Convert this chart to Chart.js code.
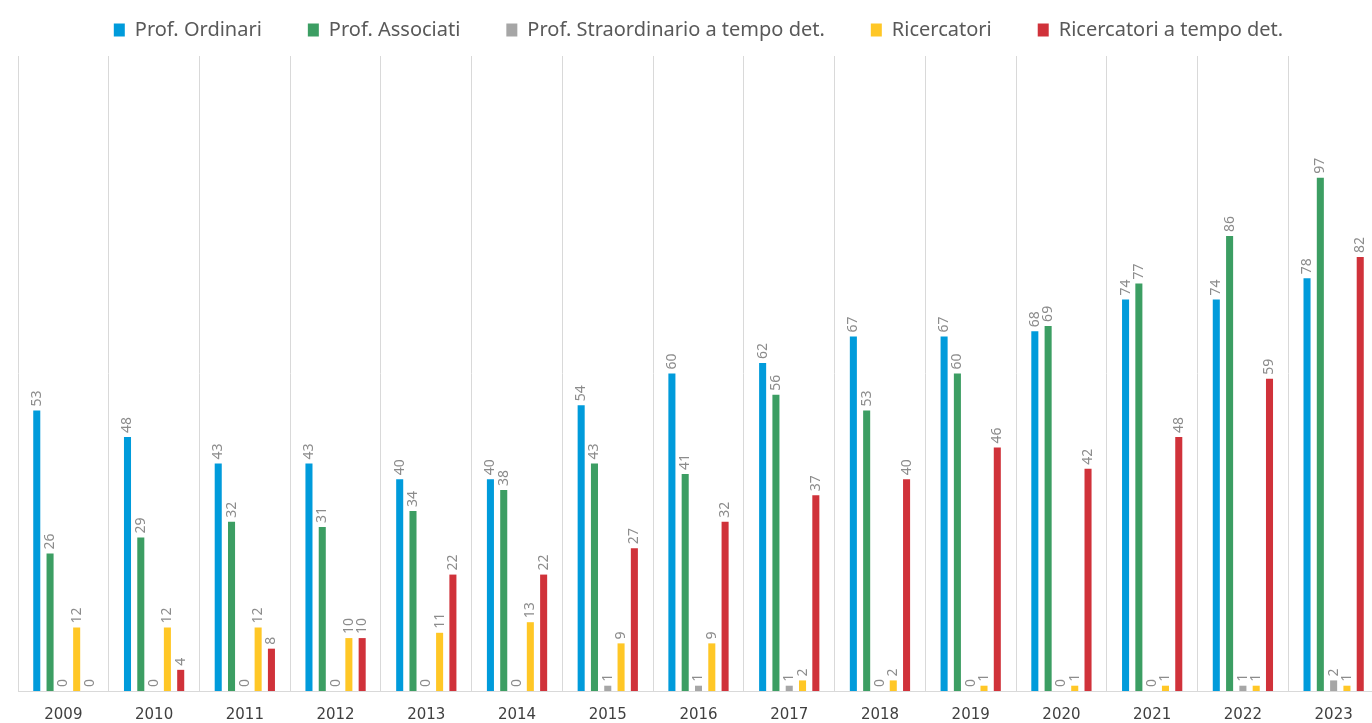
<!DOCTYPE html>
<html>
<head>
<meta charset="utf-8">
<script src="https://cdn.jsdelivr.net/npm/chart.js@4/dist/chart.umd.min.js"></script>
<style>
  html,body{margin:0;padding:0;background:#fff;overflow:hidden;}
  #wrap{width:1372px;height:723px;position:relative;overflow:hidden;}
</style>
</head>
<body>
<div id="wrap"><canvas id="c" width="1379" height="723"></canvas></div>
<script>
const years = ['2009','2010','2011','2012','2013','2014','2015','2016','2017','2018','2019','2020','2021','2022','2023'];
const profOrdinari = [53,48,43,43,40,40,54,60,62,67,67,68,74,74,78];
const profAssociati = [26,29,32,31,34,38,43,41,56,53,60,69,77,86,97];
const profStraordinario = [0,0,0,0,0,0,1,1,1,0,0,0,0,1,2];
const ricercatori = [12,12,12,10,11,13,9,9,2,2,1,1,1,1,1];
const ricercatoriTempoDet = [0,4,8,10,22,22,27,32,37,40,46,42,48,59,82];

const FONT = "'DejaVu Sans', 'Noto Sans', sans-serif";
const LFONT = "'Noto Sans', 'Open Sans', sans-serif";

const labelPlugin = {
  id: 'vlabels',
  afterInit(chart) {
    const lg = chart.legend;
    if (lg && !lg._patched) {
      const orig = lg.fit.bind(lg);
      lg.fit = function() { orig(); this.height += 6; };
      lg._patched = true;
    }
  },
  afterDatasetsDraw(chart) {
    const ctx = chart.ctx;
    ctx.save();
    ctx.fillStyle = '#8c8c8c';
    ctx.font = "14px " + LFONT;
    ctx.textAlign = 'left';
    ctx.textBaseline = 'middle';
    chart.data.datasets.forEach((ds, i) => {
      const meta = chart.getDatasetMeta(i);
      meta.data.forEach((el, j) => {
        ctx.save();
        ctx.translate(el.x, el.y - 4);
        ctx.rotate(-Math.PI / 2);
        ctx.fillText(String(ds.data[j]), 0, 0);
        ctx.restore();
      });
    });
    ctx.restore();
  }
};

const common = { barPercentage: 0.53, categoryPercentage: 0.733, borderWidth: 0 };

new Chart(document.getElementById('c'), {
  type: 'bar',
  data: {
    labels: years,
    datasets: [
      { label: 'Prof. Ordinari', data: profOrdinari, backgroundColor: '#009BDB', ...common },
      { label: 'Prof. Associati', data: profAssociati, backgroundColor: '#3C9E63', ...common },
      { label: 'Prof. Straordinario a tempo det.', data: profStraordinario, backgroundColor: '#A6A6A6', ...common },
      { label: 'Ricercatori', data: ricercatori, backgroundColor: '#FFC726', ...common },
      { label: 'Ricercatori a tempo det.', data: ricercatoriTempoDet, backgroundColor: '#D0323A', ...common }
    ]
  },
  options: {
    responsive: false,
    animation: false,
    layout: { padding: { left: 18, right: 0, top: -26, bottom: -16 } },
    plugins: {
      legend: {
        position: 'top',
        labels: {
          color: '#595959',
          font: { family: LFONT, size: 20 },
          boxWidth: 11,
          boxHeight: 13,
          padding: 46
        }
      },
      tooltip: { enabled: false }
    },
    scales: {
      x: {
        grid: { display: true, color: '#d9d9d9', lineWidth: 1, offset: true, drawTicks: false },
        border: { display: true, color: '#d9d9d9' },
        ticks: { color: '#404040', font: { family: FONT, size: 15 }, padding: 15 }
      },
      y: {
        display: false,
        min: 0,
        max: 120
      }
    }
  },
  plugins: [labelPlugin]
});
</script>
</body>
</html>
